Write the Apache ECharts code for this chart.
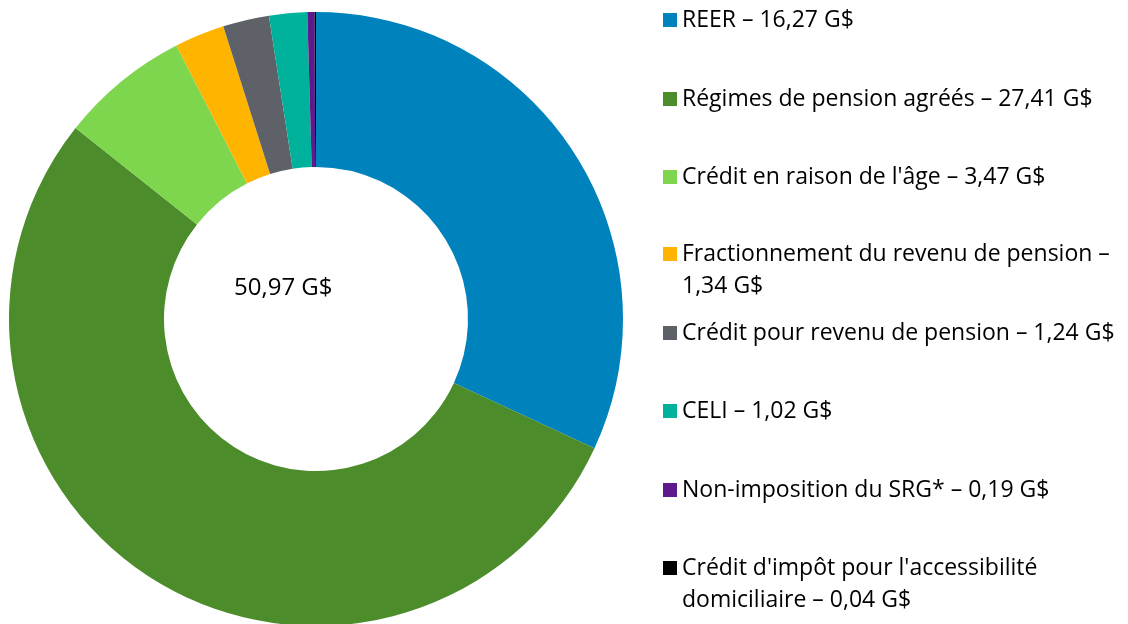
<!DOCTYPE html>
<html><head><meta charset="utf-8">
<script src="https://cdn.jsdelivr.net/npm/echarts@6/dist/echarts.min.js"></script>
<style>html,body{margin:0;padding:0;background:#fff}#c{width:1128px;height:624px}</style>
</head><body><div id="c"></div>
<script>
const categories = ["REER", "Régimes de pension agréés", "Crédit en raison de l'âge", "Fractionnement du revenu de pension", "Crédit pour revenu de pension", "CELI", "Non-imposition du SRG*", "Crédit d'impôt pour l'accessibilité domiciliaire"];
const values = [16.27, 27.41, 3.47, 1.34, 1.24, 1.02, 0.19, 0.04];
const legendLabels = ["REER – 16,27 G$", "Régimes de pension agréés – 27,41 G$", "Crédit en raison de l'âge – 3,47 G$", "Fractionnement du revenu de pension –\n1,34 G$", "Crédit pour revenu de pension – 1,24 G$", "CELI – 1,02 G$", "Non-imposition du SRG* – 0,19 G$", "Crédit d'impôt pour l'accessibilité\ndomiciliaire – 0,04 G$"];
const totalLabel = "50,97 G$";
const colors = ["#0082BD", "#4C8C2B", "#7ED64F", "#FFB400", "#5E6268", "#00B29C", "#5E1A8C", "#000000"];

const FONT = "Open Sans";
const firstLineY = [20, 99, 177, 254, 333, 411, 490, 568];
const LH = 32;
const legends = categories.map((c, i) => {
  const multi = legendLabels[i].indexOf("\n") >= 0;
  return {
    orient: 'vertical', left: 663,
    top: multi ? firstLineY[i] - 48 : firstLineY[i] - 16,
    padding: 0, itemWidth: 14, itemHeight: 14, itemGap: 0,
    icon: 'rect', selectedMode: false,
    data: [c],
    formatter: () => (multi ? " \n" : "") + legendLabels[i],
    textStyle: { fontFamily: FONT, fontSize: 23, color: '#000', lineHeight: LH }
  };
});

const chart = echarts.init(document.getElementById('c'));
chart.setOption({
  animation: false,
  color: colors,
  legend: legends,
  graphic: [{ type: 'text', left: 234, top: 276, style: { text: totalLabel, fontFamily: FONT, fontSize: 24, fill: '#000' } }],
  series: [{
    type: 'pie', center: [316, 319], radius: [152, 307], startAngle: 90, clockwise: true,
    label: { show: false }, labelLine: { show: false },
    itemStyle: { borderColor: '#fff', borderWidth: 0 },
    emphasis: { disabled: true },
    data: categories.map((c, i) => ({ name: c, value: values[i] }))
  }]
});
</script></body></html>
